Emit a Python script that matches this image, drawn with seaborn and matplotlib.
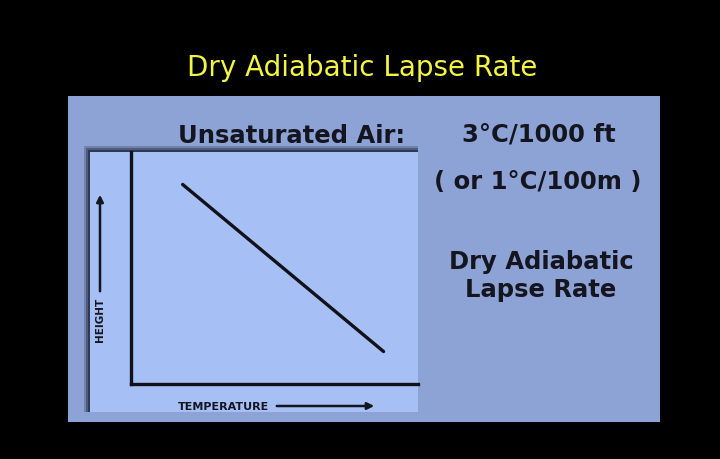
import numpy as np
import pandas as pd
import seaborn as sns
from matplotlib import pyplot as plt
from matplotlib.patches import Rectangle

# line (arbitrary units, axes 0..10)
temperature = [1.8, 8.8]
height = [8.6, 1.4]

title = "Dry Adiabatic Lapse Rate"
x_label = "TEMPERATURE"
y_label = "HEIGHT"

W, H = 720, 460


def fx(px):
    return px / W


def fy(py):
    return 1 - py / H


sns.set_style("white")
plt.rcParams['font.family'] = ['DejaVu Sans']

fig = plt.figure(figsize=(7.2, 4.6), dpi=100, facecolor="black")

# outer blue panel
fig.patches.append(Rectangle((fx(68), fy(423)), fx(592), 326 / H, transform=fig.transFigure,
                             facecolor="#8da3d5", edgecolor="none", zorder=0))
# soft shadow of the light panel
for off, a in [(6, 0.25), (4, 0.4), (2, 0.6)]:
    fig.patches.append(Rectangle((fx(90 - off), fy(413)), fx(328 + off), (260 + off) / H,
                                 transform=fig.transFigure, facecolor="#1e2336", edgecolor="none",
                                 alpha=a, zorder=1))
# light panel
fig.patches.append(Rectangle((fx(90), fy(413)), fx(328), 260 / H, transform=fig.transFigure,
                             facecolor="#a6bff4", edgecolor="none", zorder=2))

ax = fig.add_axes([fx(131), fy(385), fx(418 - 131), (385 - 153) / H])
ax.set_facecolor("none")
ax.set_zorder(3)

df = pd.DataFrame({"temperature": temperature, "height": height})
sns.lineplot(data=df, x="temperature", y="height", ax=ax, color="#111118", linewidth=2.4)
ax.set_xlim(0, 10)
ax.set_ylim(0, 10)
ax.set_xticks([])
ax.set_yticks([])
ax.set_xlabel("")
ax.set_ylabel("")
for side in ["top", "right"]:
    ax.spines[side].set_visible(False)
for side in ["left", "bottom"]:
    ax.spines[side].set_color("#111118")
    ax.spines[side].set_linewidth(2.4)

dark = "#15151f"

fig.text(fx(362), fy(68), title, color="#f4f442", fontsize=20, ha="center", va="center")

# axis labels with arrows
fig.text(fx(224), fy(407), x_label, color=dark, fontsize=8, fontweight="bold", ha="center", va="center")
fig.add_artist(plt.Annotation("", xy=(fx(377), fy(407)), xytext=(fx(274), fy(407)),
                              xycoords="figure fraction", textcoords="figure fraction",
                              arrowprops=dict(arrowstyle="-|>", color=dark, lw=1.8, mutation_scale=10)))
fig.text(fx(100), fy(320), y_label, color=dark, fontsize=7.5, fontweight="bold", ha="center", va="center",
         rotation=90)
fig.add_artist(plt.Annotation("", xy=(fx(100), fy(193)), xytext=(fx(100), fy(295)),
                              xycoords="figure fraction", textcoords="figure fraction",
                              arrowprops=dict(arrowstyle="-|>", color=dark, lw=1.8, mutation_scale=10)))

fig.text(fx(292), fy(136), "Unsaturated Air:", color=dark, fontsize=17.5, fontweight="bold",
         ha="center", va="center")
fig.text(fx(539), fy(135), "3°C/1000 ft", color=dark, fontsize=17.5, fontweight="bold",
         ha="center", va="center")
fig.text(fx(538), fy(182), "( or 1°C/100m )", color=dark, fontsize=17.5, fontweight="bold",
         ha="center", va="center")
fig.text(fx(541), fy(276), "Dry Adiabatic\nLapse Rate", color=dark, fontsize=17.5, fontweight="bold",
         ha="center", va="center", linespacing=1.2)

plt.savefig("out.png", dpi=100, facecolor=fig.get_facecolor())
